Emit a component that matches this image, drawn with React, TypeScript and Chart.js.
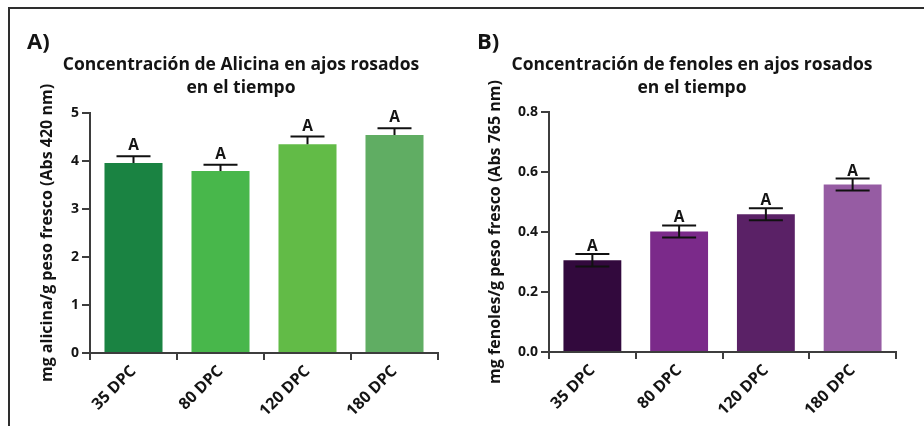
import React, { useEffect, useRef } from "react";
import { Chart, registerables } from "chart.js";

Chart.register(...registerables);

// ---------- data ----------
const categories = ["35 DPC", "80 DPC", "120 DPC", "180 DPC"];

const alicinaValues = [3.96, 3.79, 4.35, 4.54];
const alicinaErrors = [0.14, 0.13, 0.16, 0.14];
const alicinaLetters = ["A", "A", "A", "A"];
const alicinaColors = ["#1a8342", "#48b74b", "#62bb47", "#60ad63"];
const alicinaTitle = ["Concentración de Alicina en ajos rosados", "en el tiempo"];
const alicinaYLabel = "mg alicina/g peso fresco (Abs 420 nm)";
const alicinaYMax = 5;
const alicinaYStep = 1;

const fenolesValues = [0.306, 0.402, 0.459, 0.558];
const fenolesErrors = [0.021, 0.02, 0.02, 0.02];
const fenolesLetters = ["A", "A", "A", "A"];
const fenolesColors = ["#32093d", "#7b2a8a", "#5a2166", "#965ca3"];
const fenolesTitle = ["Concentración de fenoles en ajos rosados", "en el tiempo"];
const fenolesYLabel = "mg fenoles/g peso fresco (Abs 765 nm)";
const fenolesYMax = 0.8;
const fenolesYStep = 0.2;

// ---------- styling ----------
const FONT = "'Open Sans', 'Noto Sans', sans-serif";
const TEXT = "#141414";
const AXIS = "#3d3d3d";

type PanelProps = {
  left: number;
  width: number;
  height: number;
  panelLabel: string;
  panelLabelX: number;
  title: string[];
  titleX: number;
  values: number[];
  errors: number[];
  letters: string[];
  colors: string[];
  yLabel: string;
  yMax: number;
  yStep: number;
  decimals: number;
  chartLeft: number;
  chartRight: number;
  chartTop: number;
  chartBottom: number;
  yTitleCenter: number;
  bothErrors: boolean;
  letterGap: number;
};

function makeDecor(p: PanelProps) {
  return {
    id: "decor",
    afterDatasetsDraw(chart: any) {
      const ctx: CanvasRenderingContext2D = chart.ctx;
      const y = chart.scales.y;
      const meta = chart.getDatasetMeta(0);
      ctx.save();
      ctx.strokeStyle = "#111111";
      ctx.lineWidth = 2;
      ctx.fillStyle = TEXT;
      ctx.font = `700 15.5px ${FONT}`;
      ctx.textAlign = "center";
      ctx.textBaseline = "alphabetic";
      const cap = 17;
      meta.data.forEach((bar: any, i: number) => {
        const v = p.values[i];
        const e = p.errors[i];
        const top = y.getPixelForValue(v + e);
        const bot = p.bothErrors ? y.getPixelForValue(v - e) : y.getPixelForValue(v);
        const x = bar.x;
        ctx.beginPath();
        ctx.moveTo(x, top);
        ctx.lineTo(x, bot);
        ctx.moveTo(x - cap, top);
        ctx.lineTo(x + cap, top);
        if (p.bothErrors) {
          ctx.moveTo(x - cap, bot);
          ctx.lineTo(x + cap, bot);
        }
        ctx.stroke();
        ctx.fillText(p.letters[i], x, top - p.letterGap);
      });
      // titles
      ctx.font = `700 17.5px ${FONT}`;
      ctx.textAlign = "center";
      const baselines = [70, 93];
      p.title.forEach((line, k) => ctx.fillText(line, p.titleX, baselines[k]));
      // panel label
      ctx.font = `700 22px ${FONT}`;
      ctx.textAlign = "left";
      ctx.fillText(p.panelLabel, p.panelLabelX, 49);
      ctx.restore();
    },
  };
}

function Panel(p: PanelProps) {
  const ref = useRef<HTMLCanvasElement | null>(null);
  useEffect(() => {
    if (!ref.current) return;
    const yTitleSize = 16;
    const chart = new Chart(ref.current, {
      type: "bar",
      data: {
        labels: categories,
        datasets: [
          {
            data: p.values,
            backgroundColor: p.colors,
            borderWidth: 0,
            categoryPercentage: 1,
            barPercentage: 0.667,
          },
        ],
      },
      options: {
        responsive: false,
        animation: false,
        devicePixelRatio: 1,
        layout: {
          padding: {
            left: 0,
            top: p.chartTop,
            right: p.width - p.chartRight,
            bottom: 0,
          },
        },
        plugins: {
          legend: { display: false },
          tooltip: { enabled: false },
          title: { display: false },
        },
        scales: {
          x: {
            offset: true,
            grid: {
              display: true,
              drawOnChartArea: false,
              drawTicks: true,
              tickLength: 7,
              color: AXIS,
              lineWidth: 2,
            },
            border: { display: true, color: AXIS, width: 2 },
            ticks: {
              color: TEXT,
              font: { family: FONT, size: 16, weight: "700" },
              maxRotation: 45,
              minRotation: 45,
              padding: 2,
            },
            afterFit: (scale: any) => {
              scale.height = p.height - p.chartBottom;
            },
          },
          y: {
            min: 0,
            max: p.yMax,
            grid: {
              display: true,
              drawOnChartArea: false,
              drawTicks: true,
              tickLength: 8,
              color: AXIS,
              lineWidth: 2,
            },
            border: { display: true, color: AXIS, width: 2 },
            ticks: {
              stepSize: p.yStep,
              color: TEXT,
              font: { family: FONT, size: 14, weight: "700" },
              padding: 3,
              callback: (v: any) => Number(v).toFixed(p.decimals),
            },
            title: {
              display: true,
              text: p.yLabel,
              color: TEXT,
              font: { family: FONT, size: yTitleSize, weight: "700" },
              padding: { top: p.yTitleCenter - (yTitleSize * 1.2) / 2, bottom: 0 },
            },
            afterFit: (scale: any) => {
              scale.width = p.chartLeft;
            },
          },
        },
      },
      plugins: [makeDecor(p)],
    });
    return () => chart.destroy();
  }, []);
  return (
    <canvas
      ref={ref}
      width={p.width}
      height={p.height}
      style={{ position: "absolute", left: p.left, top: 0, width: p.width, height: p.height }}
    />
  );
}

export default function App() {
  return (
    <div style={{ position: "absolute", left: 0, top: 0, width: 924, height: 426, background: "#fff", overflow: "hidden" }}>
      <div
        style={{
          position: "absolute",
          left: 8,
          top: 7,
          width: 930,
          height: 430,
          borderTop: "2px solid #2e2e2e",
          borderLeft: "2px solid #2e2e2e",
        }}
      />
      <Panel
        left={0}
        width={462}
        height={426}
        panelLabel="A)"
        panelLabelX={27}
        title={alicinaTitle}
        titleX={241}
        values={alicinaValues}
        errors={alicinaErrors}
        letters={alicinaLetters}
        colors={alicinaColors}
        yLabel={alicinaYLabel}
        yMax={alicinaYMax}
        yStep={alicinaYStep}
        decimals={0}
        chartLeft={90}
        chartRight={438}
        chartTop={113}
        chartBottom={353}
        yTitleCenter={47}
        bothErrors={false}
        letterGap={6}
      />
      <Panel
        left={462}
        width={462}
        height={426}
        panelLabel="B)"
        panelLabelX={15}
        title={fenolesTitle}
        titleX={230}
        values={fenolesValues}
        errors={fenolesErrors}
        letters={fenolesLetters}
        colors={fenolesColors}
        yLabel={fenolesYLabel}
        yMax={fenolesYMax}
        yStep={fenolesYStep}
        decimals={1}
        chartLeft={87}
        chartRight={434}
        chartTop={112}
        chartBottom={352}
        yTitleCenter={33}
        bothErrors={true}
        letterGap={3}
      />
    </div>
  );
}
